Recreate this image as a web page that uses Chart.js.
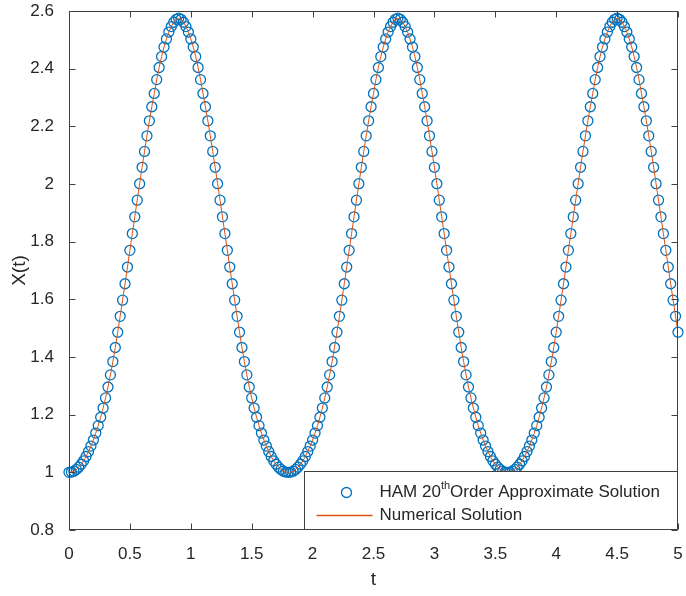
<!DOCTYPE html>
<html>
<head>
<meta charset="utf-8">
<script src="https://cdn.jsdelivr.net/npm/chart.js@4/dist/chart.umd.min.js"></script>
<style>
html,body{margin:0;padding:0;background:#ffffff;}
#wrap{width:686px;height:596px;position:relative;}
</style>
</head>
<body>
<div id="wrap"><canvas id="c" width="686" height="596"></canvas></div>
<script>
// ---- time samples (t) ----
const tValues = [
0,0.02,0.04,0.06,0.08,0.1,0.12,0.14,0.16,0.18,
0.2,0.22,0.24,0.26,0.28,0.3,0.32,0.34,0.36,0.38,
0.4,0.42,0.44,0.46,0.48,0.5,0.52,0.54,0.56,0.58,
0.6,0.62,0.64,0.66,0.68,0.7,0.72,0.74,0.76,0.78,
0.8,0.82,0.84,0.86,0.88,0.9,0.92,0.94,0.96,0.98,
1,1.02,1.04,1.06,1.08,1.1,1.12,1.14,1.16,1.18,
1.2,1.22,1.24,1.26,1.28,1.3,1.32,1.34,1.36,1.38,
1.4,1.42,1.44,1.46,1.48,1.5,1.52,1.54,1.56,1.58,
1.6,1.62,1.64,1.66,1.68,1.7,1.72,1.74,1.76,1.78,
1.8,1.82,1.84,1.86,1.88,1.9,1.92,1.94,1.96,1.98,
2,2.02,2.04,2.06,2.08,2.1,2.12,2.14,2.16,2.18,
2.2,2.22,2.24,2.26,2.28,2.3,2.32,2.34,2.36,2.38,
2.4,2.42,2.44,2.46,2.48,2.5,2.52,2.54,2.56,2.58,
2.6,2.62,2.64,2.66,2.68,2.7,2.72,2.74,2.76,2.78,
2.8,2.82,2.84,2.86,2.88,2.9,2.92,2.94,2.96,2.98,
3,3.02,3.04,3.06,3.08,3.1,3.12,3.14,3.16,3.18,
3.2,3.22,3.24,3.26,3.28,3.3,3.32,3.34,3.36,3.38,
3.4,3.42,3.44,3.46,3.48,3.5,3.52,3.54,3.56,3.58,
3.6,3.62,3.64,3.66,3.68,3.7,3.72,3.74,3.76,3.78,
3.8,3.82,3.84,3.86,3.88,3.9,3.92,3.94,3.96,3.98,
4,4.02,4.04,4.06,4.08,4.1,4.12,4.14,4.16,4.18,
4.2,4.22,4.24,4.26,4.28,4.3,4.32,4.34,4.36,4.38,
4.4,4.42,4.44,4.46,4.48,4.5,4.52,4.54,4.56,4.58,
4.6,4.62,4.64,4.66,4.68,4.7,4.72,4.74,4.76,4.78,
4.8,4.82,4.84,4.86,4.88,4.9,4.92,4.94,4.96,4.98,
5
];

// ---- HAM 20th order approximate solution X(t) (circles) ----
const hamSolution = [
1.000,1.001,1.004,1.010,1.018,1.028,1.040,1.055,1.072,1.091,
1.112,1.136,1.162,1.191,1.223,1.258,1.296,1.338,1.384,1.433,
1.486,1.541,1.597,1.654,1.712,1.770,1.828,1.886,1.944,2.001,
2.058,2.113,2.167,2.219,2.268,2.314,2.362,2.404,2.442,2.475,
2.503,2.527,2.546,2.561,2.571,2.575,2.571,2.561,2.546,2.527,
2.503,2.475,2.442,2.404,2.362,2.314,2.268,2.219,2.167,2.113,
2.058,2.001,1.944,1.886,1.828,1.770,1.712,1.654,1.597,1.541,
1.486,1.433,1.384,1.338,1.296,1.258,1.223,1.191,1.162,1.136,
1.112,1.091,1.072,1.055,1.040,1.028,1.018,1.010,1.004,1.001,
1.000,1.001,1.004,1.010,1.018,1.028,1.040,1.055,1.072,1.091,
1.112,1.136,1.162,1.191,1.223,1.258,1.296,1.338,1.384,1.433,
1.486,1.541,1.597,1.654,1.712,1.770,1.828,1.886,1.944,2.001,
2.058,2.113,2.167,2.219,2.268,2.314,2.362,2.404,2.442,2.475,
2.503,2.527,2.546,2.561,2.571,2.575,2.571,2.561,2.546,2.527,
2.503,2.475,2.442,2.404,2.362,2.314,2.268,2.219,2.167,2.113,
2.058,2.001,1.944,1.886,1.828,1.770,1.712,1.654,1.597,1.541,
1.486,1.433,1.384,1.338,1.296,1.258,1.223,1.191,1.162,1.136,
1.112,1.091,1.072,1.055,1.040,1.028,1.018,1.010,1.004,1.001,
1.000,1.001,1.004,1.010,1.018,1.028,1.040,1.055,1.072,1.091,
1.112,1.136,1.162,1.191,1.223,1.258,1.296,1.338,1.384,1.433,
1.486,1.541,1.597,1.654,1.712,1.770,1.828,1.886,1.944,2.001,
2.058,2.113,2.167,2.219,2.268,2.314,2.362,2.404,2.442,2.475,
2.503,2.527,2.546,2.561,2.571,2.575,2.571,2.561,2.546,2.527,
2.503,2.475,2.442,2.404,2.362,2.314,2.268,2.219,2.167,2.113,
2.058,2.001,1.944,1.886,1.828,1.770,1.712,1.654,1.597,1.541,
1.486
];

// ---- numerical solution (line) — overlaps the HAM points ----
const numericalSolution = hamSolution.slice();

// ---- axis ticks and labels ----
const xTickValues = [0,0.5,1,1.5,2,2.5,3,3.5,4,4.5,5];
const yTickValues = [0.8,1,1.2,1.4,1.6,1.8,2,2.2,2.4,2.6];
const xAxisTitle = 't';
const yAxisTitle = 'X(t)';
const hamLabelParts = ['HAM 20', 'th', 'Order Approximate Solution'];
const numericalLabel = 'Numerical Solution';

const FONT = '"Liberation Sans", Arial, Helvetica, sans-serif';
const TEXT = '#262626';
const FRAME = '#404040';
const BLUE = '#0072BD';
const ORANGE = '#D95319';

const fmt = v => String(Number(Number(v).toFixed(2)));

const framePlugin = {
  id: 'matlabFrame',
  afterDraw(chart) {
    const {ctx, chartArea: a, scales} = chart;
    const xs = scales.x, ys = scales.y;
    ctx.save();
    const L = Math.round(a.left) + 0.5, R = Math.round(a.right) - 0.5;
    const T = Math.round(a.top) + 0.5, B = Math.round(a.bottom) - 0.5;
    ctx.strokeStyle = FRAME;
    ctx.lineWidth = 1;
    ctx.strokeRect(L, T, R - L, B - T);
    const tl = 6;
    ctx.beginPath();
    xs.ticks.forEach(t => {
      const px = Math.round(xs.getPixelForValue(t.value)) + 0.5;
      ctx.moveTo(px, B); ctx.lineTo(px, B - tl);
      ctx.moveTo(px, T); ctx.lineTo(px, T + tl);
    });
    ys.ticks.forEach(t => {
      const py = Math.round(ys.getPixelForValue(t.value)) + 0.5;
      ctx.moveTo(L, py); ctx.lineTo(L + tl, py);
      ctx.moveTo(R, py); ctx.lineTo(R - tl, py);
    });
    ctx.stroke();

    // legend box (inside, bottom-right)
    const lw = 373, lh = 58;
    const lx = Math.round(a.right) - lw - 0.5, ly = Math.round(a.bottom) - lh - 0.5;
    ctx.fillStyle = '#ffffff';
    ctx.fillRect(lx, ly, lw, lh);
    ctx.strokeStyle = FRAME;
    ctx.lineWidth = 1;
    ctx.strokeRect(lx, ly, lw, lh);

    const ds0 = chart.data.datasets[0], ds1 = chart.data.datasets[1];
    const row1 = ly + 21, row2 = ly + 44;
    ctx.beginPath();
    ctx.strokeStyle = ds0.borderColor;
    ctx.lineWidth = ds0.borderWidth;
    ctx.arc(lx + 42, row1, ds0.pointRadius, 0, Math.PI * 2);
    ctx.stroke();
    ctx.beginPath();
    ctx.strokeStyle = ds1.borderColor;
    ctx.lineWidth = 1.3;
    ctx.moveTo(lx + 12, row2); ctx.lineTo(lx + 68, row2);
    ctx.stroke();
    ctx.fillStyle = TEXT;
    ctx.textBaseline = 'middle';
    ctx.textAlign = 'left';
    let tx = lx + 75;
    ctx.font = '17px ' + FONT;
    ctx.fillText(hamLabelParts[0], tx, row1);
    tx += ctx.measureText(hamLabelParts[0]).width;
    ctx.font = '11px ' + FONT;
    ctx.fillText(hamLabelParts[1], tx, row1 - 7);
    tx += ctx.measureText(hamLabelParts[1]).width;
    ctx.font = '17px ' + FONT;
    ctx.fillText(hamLabelParts[2], tx, row1);
    ctx.fillText(numericalLabel, lx + 75, row2);
    ctx.restore();
  }
};

new Chart(document.getElementById('c'), {
  type: 'scatter',
  data: {
    datasets: [
      {
        label: hamLabelParts.join(''),
        data: tValues.map((t, i) => ({x: t, y: hamSolution[i]})),
        showLine: false,
        pointStyle: 'circle',
        pointRadius: 5,
        pointBorderWidth: 1.3,
        borderWidth: 1.3,
        borderColor: BLUE,
        pointBorderColor: BLUE,
        backgroundColor: 'rgba(0,0,0,0)',
        pointBackgroundColor: 'rgba(0,0,0,0)',
        clip: false,
        order: 2
      },
      {
        label: numericalLabel,
        data: tValues.map((t, i) => ({x: t, y: numericalSolution[i]})),
        showLine: true,
        pointRadius: 0,
        borderColor: ORANGE,
        borderWidth: 1,
        backgroundColor: ORANGE,
        tension: 0,
        order: 1
      }
    ]
  },
  options: {
    responsive: false,
    animation: false,
    devicePixelRatio: 1,
    layout: {padding: {top: 11, right: 8, left: 0, bottom: 0}},
    plugins: {legend: {display: false}, tooltip: {enabled: false}},
    scales: {
      x: {
        type: 'linear', min: 0, max: 5,
        afterBuildTicks: s => { s.ticks = xTickValues.map(v => ({value: v})); },
        afterFit: s => { s.height = 66; s.paddingLeft = 0; s.paddingRight = 0; },
        grid: {display: false},
        border: {display: false},
        ticks: {callback: v => fmt(v), color: TEXT, font: {family: FONT, size: 17}, padding: 6, maxRotation: 0, autoSkip: false},
        title: {display: true, text: xAxisTitle, color: TEXT, font: {family: FONT, size: 19}, padding: {top: 0, bottom: 5}}
      },
      y: {
        type: 'linear', min: 0.8, max: 2.6,
        afterBuildTicks: s => { s.ticks = yTickValues.map(v => ({value: v})); },
        afterFit: s => { s.width = 69; s.paddingTop = 0; s.paddingBottom = 0; },
        grid: {display: false},
        border: {display: false},
        ticks: {callback: v => fmt(v), color: TEXT, font: {family: FONT, size: 17}, padding: 7, autoSkip: false},
        title: {display: true, text: yAxisTitle, color: TEXT, font: {family: FONT, size: 19}, padding: {top: 8, bottom: 0}}
      }
    }
  },
  plugins: [framePlugin]
});
</script>
</body>
</html>
